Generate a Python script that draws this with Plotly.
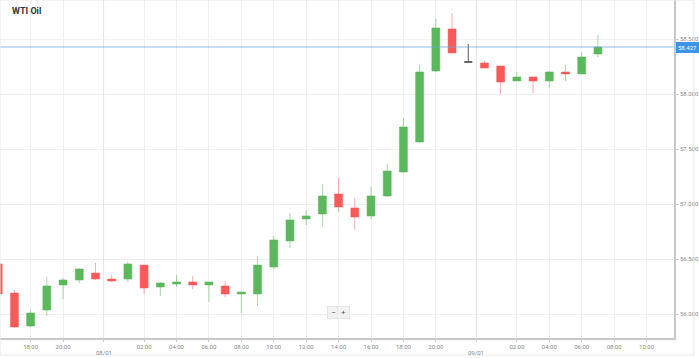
import plotly.graph_objects as go

# ---- data -------------------------------------------------------------
times = [
    "07/01 16:00", "07/01 17:00", "07/01 18:00", "07/01 19:00", "07/01 20:00",
    "07/01 21:00", "07/01 22:00",
    "08/01 00:00", "08/01 01:00", "08/01 02:00", "08/01 03:00", "08/01 04:00",
    "08/01 05:00", "08/01 06:00", "08/01 07:00", "08/01 08:00", "08/01 09:00",
    "08/01 10:00", "08/01 11:00", "08/01 12:00", "08/01 13:00", "08/01 14:00",
    "08/01 15:00", "08/01 16:00", "08/01 17:00", "08/01 18:00", "08/01 19:00",
    "08/01 20:00", "08/01 21:00", "08/01 22:00",
    "09/01 00:00", "09/01 01:00", "09/01 02:00", "09/01 03:00", "09/01 04:00",
    "09/01 05:00", "09/01 06:00", "09/01 07:00",
]
opens = [56.455, 56.191, 55.891, 56.036, 56.264, 56.309, 56.373, 56.318, 56.318, 56.445,
         56.245, 56.273, 56.291, 56.264, 56.255, 56.182, 56.182, 56.427, 56.664, 56.864,
         56.909, 57.091, 56.964, 56.891, 57.073, 57.291, 57.564, 58.209, 58.591, 58.291,
         58.282, 58.255, 58.118, 58.155, 58.118, 58.200, 58.182, 58.364]
highs = [56.465, 56.218, 56.036, 56.336, 56.327, 56.418, 56.464, 56.355, 56.473, 56.445,
         56.291, 56.355, 56.345, 56.291, 56.300, 56.200, 56.527, 56.709, 56.918, 56.945,
         57.182, 57.236, 57.055, 57.155, 57.364, 57.782, 58.264, 58.682, 58.736, 58.455,
         58.300, 58.255, 58.200, 58.155, 58.209, 58.264, 58.382, 58.536]
lows = [56.170, 55.873, 55.882, 55.982, 56.136, 56.282, 56.309, 56.291, 56.291, 56.182,
        56.164, 56.245, 56.227, 56.109, 56.155, 56.009, 56.073, 56.409, 56.600, 56.809,
        56.791, 56.927, 56.764, 56.864, 57.064, 57.282, 57.555, 58.200, 58.373, 58.291,
        58.236, 58.000, 58.118, 58.009, 58.055, 58.118, 58.182, 58.336]
closes = [56.182, 55.882, 56.009, 56.255, 56.309, 56.409, 56.318, 56.300, 56.455, 56.236,
          56.282, 56.291, 56.264, 56.291, 56.182, 56.200, 56.445, 56.673, 56.855, 56.891,
          57.073, 56.973, 56.882, 57.073, 57.300, 57.700, 58.200, 58.600, 58.373, 58.291,
          58.236, 58.109, 58.155, 58.118, 58.200, 58.182, 58.336, 58.427]

x_tick_labels = ["18:00", "20:00", "02:00", "04:00", "06:00", "08:00", "10:00",
                 "12:00", "14:00", "16:00", "18:00", "20:00",
                 "02:00", "04:00", "06:00", "08:00", "10:00"]
date_labels = ["08/01", "09/01"]
y_ticks = [56.0, 56.5, 57.0, 57.5, 58.0, 58.5]
title_text = "WTI Oil"

# ---- positions (ordinal axis: one slot per traded hour) ----------------
idx = list(range(len(times)))


def hour_of(t):
    return int(t[6:8])


tick_pos = []
tick_txt = []
hours_seq = [(i, hour_of(t)) for i, t in enumerate(times)]
last_i, last_h = hours_seq[-1]
for k in range(1, 6):
    hours_seq.append((last_i + k, (last_h + k) % 24))
label_iter = iter(x_tick_labels)
pending = next(label_iter, None)
for i, h in hours_seq:
    if pending is None:
        break
    if h != 0 and h % 2 == 0 and "%02d:00" % h == pending and i >= 1:
        tick_pos.append(i)
        tick_txt.append(pending)
        pending = next(label_iter, None)

date_pos = []
for d in date_labels:
    for i, t in enumerate(times):
        if t.startswith(d) and hour_of(t) == 0:
            date_pos.append(i - 0.5)
            break

GREEN = "#5cb85c"
RED = "#f85a5a"

normal = [i for i in idx if opens[i] != closes[i]]
doji = [i for i in idx if opens[i] == closes[i]]

fig = go.Figure()
fig.add_trace(go.Candlestick(
    x=[idx[i] for i in normal],
    open=[opens[i] for i in normal], high=[highs[i] for i in normal],
    low=[lows[i] for i in normal], close=[closes[i] for i in normal],
    increasing=dict(fillcolor=GREEN, line=dict(color="rgba(92,184,92,0.55)", width=1)),
    decreasing=dict(fillcolor=RED, line=dict(color="rgba(248,90,90,0.5)", width=1)),
    whiskerwidth=0, showlegend=False,
))
if doji:
    fig.add_trace(go.Candlestick(
        x=[idx[i] for i in doji],
        open=[opens[i] for i in doji], high=[highs[i] for i in doji],
        low=[lows[i] for i in doji], close=[closes[i] for i in doji],
        increasing=dict(fillcolor="#555555", line=dict(color="#555555", width=1)),
        decreasing=dict(fillcolor="#555555", line=dict(color="#555555", width=1)),
        whiskerwidth=0, showlegend=False,
    ))

px_per_slot = 16.28
x_left = 1 - 14.5 / px_per_slot
x_right = 1 + (677 - 14.5) / px_per_slot
y_top = 58.5 + 39 / 110
y_bot = 58.5 - 299 / 110

fig.update_layout(
    width=699, height=358,
    margin=dict(l=0, r=22, t=0, b=20),
    paper_bgcolor="white", plot_bgcolor="white",
    font=dict(family="Roboto, Arial, sans-serif", size=6, color="#888"),
    boxgap=0.3,
    xaxis=dict(
        range=[x_left, x_right], rangeslider=dict(visible=False),
        tickmode="array", tickvals=tick_pos + date_pos,
        ticktext=tick_txt + [""] * len(date_pos),
        showgrid=True, gridcolor="#f0f0f0", gridwidth=1,
        showline=True, linecolor="#c8c8c8", linewidth=1.5,
        ticks="outside", ticklen=2, tickcolor="#cccccc",
        tickfont=dict(size=6, color="#888"), zeroline=False, fixedrange=True,
    ),
    yaxis=dict(
        range=[y_bot, y_top], side="right",
        tickmode="array", tickvals=y_ticks,
        ticktext=["%.3f" % v for v in y_ticks],
        showgrid=True, gridcolor="#f0f0f0", gridwidth=1,
        showline=True, linecolor="#c8c8c8", linewidth=1.5,
        ticks="outside", ticklen=3, tickcolor="#cccccc",
        tickfont=dict(size=6, color="#888"), zeroline=False, fixedrange=True,
    ),
)

for p, d in zip(date_pos, date_labels):
    fig.add_shape(type="line", xref="x", yref="paper", x0=p, x1=p, y0=0, y1=1,
                  line=dict(color="#e6e6e6", width=1))
    fig.add_annotation(x=p, xref="x", y=0, yref="paper", yshift=-9, text=d,
                       showarrow=False, yanchor="top", font=dict(size=6, color="#888"))

last_close = closes[-1]
fig.add_shape(type="line", xref="paper", yref="y", x0=0, x1=1, y0=last_close, y1=last_close,
              line=dict(color="rgba(110,165,220,0.75)", width=1))
fig.add_annotation(x=1, xref="paper", y=last_close, yref="y", xanchor="left", xshift=2,
                   text="%.3f" % last_close, showarrow=False,
                   font=dict(size=6, color="white"), bgcolor="#3b95e6",
                   borderpad=1, bordercolor="#3b95e6")

fig.add_annotation(x=10 / 677, xref="paper", y=1 - 11 / 338, yref="paper",
                   text="<b>%s</b>" % title_text,
                   showarrow=False, xanchor="left", yanchor="middle",
                   font=dict(size=9, color="#333"))

fig.add_annotation(x=(335 / 677), xref="paper", y=1 - 319 / 338, yref="paper", text="−",
                   showarrow=False, font=dict(size=8, color="#555"), bgcolor="#f2f2f2",
                   bordercolor="#e4e4e4", borderpad=1, width=9)
fig.add_annotation(x=(345 / 677), xref="paper", y=1 - 319 / 338, yref="paper", text="+",
                   showarrow=False, font=dict(size=8, color="#555"), bgcolor="#f2f2f2",
                   bordercolor="#e4e4e4", borderpad=1, width=9)

fig.add_shape(type="rect", xref="paper", yref="paper", x0=0, x1=697 / 677,
              y0=-(355 - 338) / 338, y1=1, line=dict(color="#e8e8e8", width=1))

fig.write_html("out.html", config={"displayModeBar": False},
               post_script="document.body.style.margin='0';document.body.style.overflow='hidden';")
